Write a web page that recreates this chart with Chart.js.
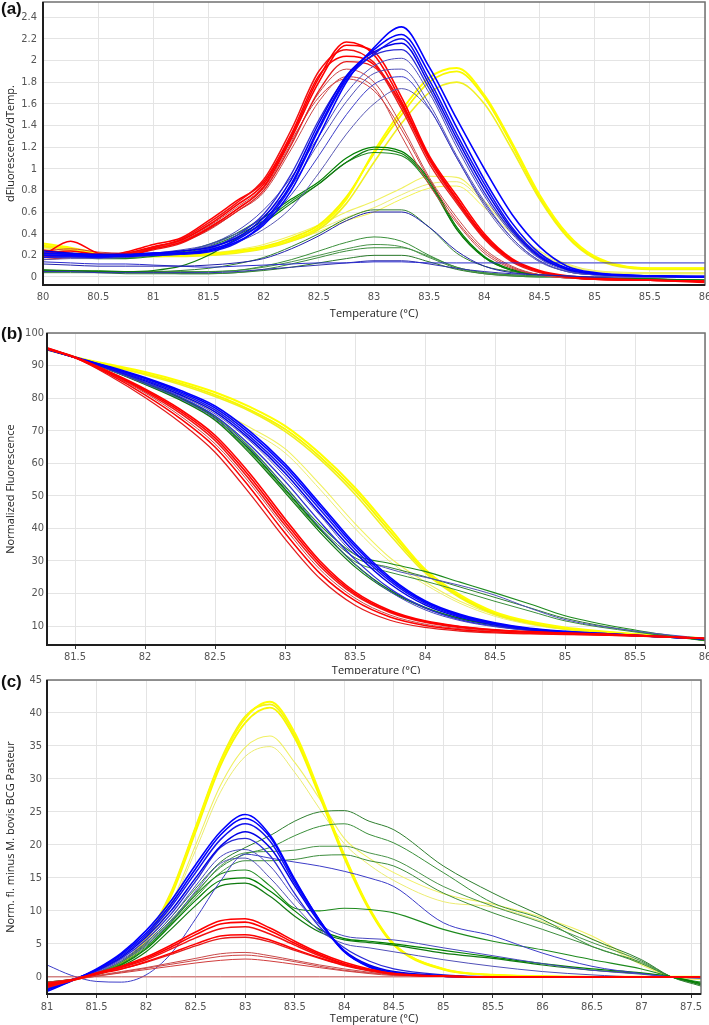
<!DOCTYPE html>
<html>
<head>
<meta charset="utf-8">
<script src="https://cdn.jsdelivr.net/npm/chart.js"></script>
<style>
  body { margin: 0; background: #fff; width: 709px; height: 1025px; position: relative; overflow: hidden; }
  .panel { position: absolute; left: 0; width: 709px; background: #fff; }
  .panel canvas { display: block; background: #fff; }
  .tag { position: absolute; left: 1px; font: bold 17px 'Liberation Sans', Arial, sans-serif; color: #111; z-index: 5; }
</style>
</head>
<body>
<div class="panel" style="top:0;height:320px"><canvas id="chartA" width="709" height="320"></canvas></div>
<div class="panel" style="top:320px;height:357px"><canvas id="chartB" width="709" height="357"></canvas></div>
<div class="panel" style="top:674px;height:351px"><canvas id="chartC" width="709" height="351"></canvas></div>
<div class="tag" style="top:-1px">(a)</div>
<div class="tag" style="top:324px">(b)</div>
<div class="tag" style="top:672px">(c)</div>
<script>
// ---------- (a) derivative melt curves ----------
const aTemps = [80, 80.25, 80.5, 80.75, 81, 81.25, 81.5, 81.75, 82, 82.25, 82.5, 82.75, 83, 83.25, 83.5, 83.75, 84, 84.25, 84.5, 84.75, 85, 85.5, 86];
const aXTicks = [80, 80.5, 81, 81.5, 82, 82.5, 83, 83.5, 84, 84.5, 85, 85.5, 86];
const aYTicks = [0, 0.2, 0.4, 0.6, 0.8, 1, 1.2, 1.4, 1.6, 1.8, 2, 2.2, 2.4];

const aRed = [
  [0.22,0.24,0.21,0.22,0.28,0.34,0.48,0.66,0.86,1.3,1.84,2.17,2.05,1.62,1.1,0.72,0.38,0.16,0.05,0.0,-0.02,-0.03,-0.04],
  [0.2,0.33,0.22,0.2,0.26,0.32,0.45,0.62,0.83,1.28,1.8,2.14,2.08,1.66,1.12,0.75,0.4,0.17,0.06,0.01,-0.01,-0.03,-0.04],
  [0.18,0.2,0.2,0.21,0.27,0.35,0.5,0.68,0.9,1.36,1.9,2.1,1.98,1.58,1.08,0.7,0.36,0.15,0.05,0.0,-0.02,-0.03,-0.04],
  [0.25,0.22,0.18,0.23,0.3,0.36,0.52,0.7,0.88,1.32,1.86,2.04,1.96,1.6,1.1,0.72,0.37,0.16,0.05,0.0,-0.02,-0.03,-0.05],
  [0.16,0.18,0.19,0.2,0.25,0.31,0.44,0.6,0.8,1.22,1.72,1.99,1.94,1.55,1.05,0.68,0.35,0.14,0.04,0.0,-0.02,-0.03,-0.04],
  [0.22,0.22,0.2,0.22,0.27,0.33,0.46,0.62,0.82,1.24,1.7,1.92,1.8,1.4,0.92,0.55,0.26,0.1,0.02,-0.01,-0.02,-0.03,-0.04],
  [0.19,0.21,0.2,0.21,0.26,0.32,0.43,0.6,0.78,1.18,1.62,1.85,1.75,1.3,0.85,0.5,0.22,0.08,0.02,-0.01,-0.02,-0.03,-0.04],
  [0.24,0.26,0.23,0.22,0.28,0.34,0.47,0.64,0.84,1.26,1.66,1.83,1.72,1.36,0.9,0.52,0.24,0.09,0.02,-0.01,-0.02,-0.03,-0.04]
];
const aBlue = [
  [0.2,0.2,0.19,0.2,0.22,0.22,0.24,0.32,0.48,0.8,1.3,1.8,2.12,2.31,1.94,1.46,1.0,0.58,0.28,0.1,0.04,0.01,0.0],
  [0.22,0.21,0.2,0.19,0.21,0.22,0.25,0.34,0.52,0.86,1.38,1.84,2.1,2.24,1.88,1.38,0.9,0.5,0.22,0.08,0.03,0.01,0.0],
  [0.18,0.19,0.18,0.2,0.2,0.21,0.23,0.31,0.5,0.84,1.36,1.82,2.06,2.2,1.82,1.32,0.86,0.46,0.2,0.08,0.03,0.01,0.01],
  [0.24,0.22,0.21,0.21,0.22,0.24,0.27,0.36,0.55,0.9,1.42,1.86,2.08,2.16,1.78,1.28,0.82,0.44,0.19,0.07,0.03,0.01,0.0],
  [0.2,0.2,0.18,0.19,0.2,0.22,0.26,0.38,0.58,0.95,1.45,1.85,2.05,2.1,1.74,1.24,0.78,0.42,0.18,0.07,0.03,0.01,0.0],
  [0.22,0.22,0.2,0.2,0.22,0.25,0.3,0.42,0.62,0.92,1.3,1.7,1.95,2.02,1.7,1.2,0.75,0.4,0.17,0.06,0.02,0.01,0.0],
  [0.18,0.18,0.18,0.19,0.21,0.24,0.29,0.4,0.56,0.84,1.24,1.62,1.88,1.92,1.6,1.12,0.7,0.36,0.15,0.05,0.02,0.01,0.0],
  [0.21,0.2,0.19,0.2,0.22,0.24,0.28,0.36,0.5,0.76,1.12,1.5,1.78,1.85,1.56,1.1,0.68,0.36,0.15,0.05,0.02,0.01,0.0],
  [0.16,0.17,0.17,0.18,0.2,0.22,0.26,0.32,0.44,0.64,0.96,1.32,1.6,1.74,1.55,1.1,0.66,0.34,0.14,0.05,0.02,0.01,0.0],
  [0.12,0.11,0.1,0.1,0.1,0.1,0.11,0.13,0.17,0.26,0.38,0.52,0.6,0.6,0.46,0.24,0.1,0.04,0.02,0.01,0.0,0.0,0.0],
  [0.14,0.13,0.12,0.12,0.11,0.1,0.09,0.1,0.11,0.12,0.13,0.13,0.14,0.14,0.13,0.13,0.13,0.13,0.13,0.13,0.13,0.13,0.13],
  [0.05,0.05,0.04,0.04,0.04,0.04,0.04,0.05,0.07,0.09,0.11,0.13,0.15,0.15,0.12,0.08,0.05,0.03,0.02,0.01,0.0,0.0,0.0]
];
const aYellow = [
  [0.31,0.27,0.22,0.2,0.2,0.2,0.21,0.23,0.27,0.34,0.46,0.72,1.16,1.54,1.84,1.93,1.68,1.24,0.76,0.4,0.19,0.08,0.08],
  [0.29,0.26,0.22,0.2,0.19,0.2,0.21,0.24,0.28,0.36,0.48,0.74,1.14,1.5,1.8,1.9,1.66,1.22,0.74,0.38,0.18,0.08,0.08],
  [0.28,0.25,0.21,0.19,0.19,0.19,0.2,0.22,0.26,0.33,0.44,0.68,1.06,1.42,1.7,1.8,1.6,1.18,0.72,0.37,0.17,0.07,0.07],
  [0.3,0.26,0.22,0.2,0.2,0.2,0.22,0.25,0.3,0.38,0.48,0.6,0.7,0.82,0.93,0.92,0.7,0.44,0.24,0.12,0.06,0.04,0.04],
  [0.27,0.24,0.2,0.19,0.19,0.19,0.21,0.24,0.28,0.35,0.44,0.55,0.64,0.76,0.86,0.88,0.68,0.42,0.22,0.11,0.05,0.03,0.03],
  [0.26,0.24,0.21,0.2,0.2,0.2,0.21,0.23,0.27,0.33,0.42,0.52,0.6,0.72,0.82,0.84,0.64,0.4,0.21,0.1,0.05,0.03,0.03]
];
const aGreen = [
  [0.2,0.19,0.18,0.18,0.2,0.23,0.3,0.4,0.55,0.72,0.88,1.1,1.2,1.16,0.9,0.46,0.19,0.07,0.02,0.0,-0.01,-0.02,-0.03],
  [0.06,0.06,0.05,0.05,0.06,0.1,0.2,0.35,0.5,0.68,0.86,1.06,1.18,1.14,0.88,0.44,0.18,0.06,0.02,0.0,-0.01,-0.02,-0.03],
  [0.18,0.18,0.17,0.17,0.19,0.22,0.28,0.38,0.52,0.7,0.86,1.06,1.15,1.12,0.86,0.44,0.18,0.06,0.02,0.0,-0.01,-0.02,-0.03],
  [0.06,0.06,0.05,0.05,0.05,0.06,0.08,0.12,0.18,0.28,0.4,0.54,0.62,0.62,0.46,0.22,0.1,0.05,0.02,0.0,-0.01,-0.02,-0.03],
  [0.07,0.06,0.06,0.05,0.05,0.05,0.05,0.06,0.1,0.16,0.24,0.32,0.37,0.33,0.2,0.09,0.04,0.02,0.01,0.0,-0.01,-0.02,-0.03],
  [0.05,0.05,0.04,0.04,0.04,0.04,0.05,0.06,0.09,0.14,0.2,0.26,0.3,0.28,0.19,0.09,0.04,0.02,0.01,0.0,-0.01,-0.02,-0.03],
  [0.06,0.05,0.05,0.04,0.04,0.03,0.03,0.04,0.07,0.12,0.18,0.24,0.27,0.27,0.18,0.08,0.03,0.01,0.0,0.0,-0.01,-0.02,-0.03],
  [0.04,0.04,0.04,0.03,0.03,0.03,0.03,0.04,0.06,0.09,0.13,0.17,0.2,0.2,0.14,0.07,0.03,0.01,0.0,0.0,-0.01,-0.02,-0.03]
];

// ---------- (b) normalized melt curves ----------
const bTemps = [81.3, 81.5, 81.75, 82, 82.25, 82.5, 82.75, 83, 83.25, 83.5, 83.75, 84, 84.25, 84.5, 84.75, 85, 85.5, 86];
const bXTicks = [81.5, 82, 82.5, 83, 83.5, 84, 84.5, 85, 85.5, 86];
const bYTicks = [10, 20, 30, 40, 50, 60, 70, 80, 90, 100];

const bRed = [
  [95.5,92.6,88.0,82.8,76.6,68.6,56.8,43.0,30.0,20.5,14.8,11.6,9.9,8.9,8.3,7.9,7.2,6.2],
  [95.3,92.5,87.8,82.4,76.0,67.8,55.8,42.0,29.2,20.0,14.5,11.4,9.8,8.8,8.2,7.8,7.2,6.2],
  [95.2,92.5,87.6,82.0,75.4,67.0,54.8,41.0,28.4,19.5,14.2,11.2,9.6,8.7,8.1,7.8,7.1,6.2],
  [95.2,92.4,87.2,81.0,73.8,65.0,52.5,38.6,26.2,17.8,12.8,10.2,8.9,8.2,7.8,7.6,7.0,6.2],
  [95.0,92.4,86.8,80.2,72.6,63.4,50.6,36.8,24.6,16.4,11.8,9.6,8.5,7.9,7.6,7.4,7.0,6.2],
  [95.4,92.5,87.4,81.6,74.6,66.0,53.8,40.0,27.4,18.6,13.4,10.6,9.2,8.4,7.9,7.6,7.0,6.2]
];
const bBlue = [
  [95.3,92.6,89.6,86.3,82.4,77.6,69.8,59.8,47.6,35.2,25.0,17.8,13.6,11.0,9.3,8.4,7.2,6.1],
  [95.1,92.5,89.4,86.0,82.0,77.0,69.0,59.0,46.8,34.5,24.4,17.4,13.3,10.8,9.2,8.3,7.2,6.1],
  [94.9,92.5,89.2,85.6,81.6,76.4,68.2,58.0,45.8,33.6,23.8,17.0,13.0,10.6,9.0,8.2,7.1,6.1],
  [95.0,92.5,89.0,85.3,81.1,75.8,67.4,57.0,44.6,32.6,23.0,16.5,12.7,10.4,8.9,8.1,7.1,6.1],
  [95.0,92.5,88.8,84.8,80.4,74.6,65.6,54.5,42.0,30.5,21.5,15.6,12.0,10.0,8.7,8.0,7.0,6.1],
  [94.8,92.4,88.6,84.4,79.8,73.8,64.4,52.8,40.2,29.0,20.6,15.0,11.7,9.8,8.6,7.9,7.0,6.1],
  [95.0,92.5,89.0,85.0,80.8,75.2,66.8,56.0,44.0,32.0,27.5,25.0,22.5,19.5,15.5,12.0,8.5,6.2]
];
const bYellow = [
  [95.2,92.6,90.3,88.0,85.2,81.8,77.3,71.5,63.0,52.5,40.0,27.5,19.6,14.3,11.4,9.6,7.6,6.2],
  [95.0,92.6,90.0,87.5,84.6,81.0,76.4,70.5,62.0,51.5,39.0,27.0,19.1,13.9,11.0,9.3,7.5,6.2],
  [94.8,92.5,89.8,87.2,84.2,80.5,76.0,69.8,61.2,50.5,38.0,26.4,18.7,13.6,10.8,9.1,7.4,6.2],
  [95.0,92.5,89.5,86.0,81.5,76.5,71.0,64.5,53.5,41.5,31.0,23.6,17.6,13.4,10.8,9.1,7.3,6.2],
  [94.9,92.5,89.3,85.6,81.0,75.8,70.0,63.2,52.0,40.0,29.8,22.8,17.0,13.0,10.5,8.9,7.2,6.2]
];
const bGreen = [
  [95.0,92.5,88.8,84.6,80.0,74.0,64.0,52.0,39.8,29.0,21.0,15.8,12.4,10.4,9.0,8.2,7.1,6.0],
  [95.1,92.5,88.6,84.2,79.4,73.2,63.0,51.0,38.8,28.2,20.6,15.6,12.3,10.3,9.0,8.2,7.1,6.0],
  [95.0,92.5,88.9,84.8,80.2,74.4,64.8,53.0,41.0,32.0,29.2,26.8,23.5,20.2,16.8,13.2,8.8,5.6],
  [95.0,92.5,88.7,84.5,79.8,73.8,64.0,52.2,40.2,31.0,28.0,25.2,22.0,18.8,15.6,12.4,8.4,5.6],
  [94.9,92.4,88.6,84.3,79.5,73.4,63.5,51.5,39.5,29.8,26.5,23.8,20.8,17.6,14.6,11.6,8.2,5.5]
];

// ---------- (c) difference curves ----------
const cTemps = [81, 81.25, 81.5, 81.75, 82, 82.25, 82.5, 82.75, 83, 83.25, 83.5, 83.75, 84, 84.25, 84.5, 85, 85.5, 86, 86.5, 87, 87.3, 87.6];
const cXTicks = [81, 81.5, 82, 82.5, 83, 83.5, 84, 84.5, 85, 85.5, 86, 86.5, 87, 87.5];
const cYTicks = [0, 5, 10, 15, 20, 25, 30, 35, 40, 45];

const cRed = [
  [-1.0,-0.5,0.6,1.6,3.0,4.8,6.8,8.5,8.8,7.4,5.4,3.6,2.2,1.2,0.5,0.1,0,0,0,0,0,0],
  [-1.4,-0.5,0.5,1.5,2.8,4.5,6.4,8.0,8.3,7.0,5.1,3.4,2.0,1.1,0.5,0.1,0,0,0,0,0,0],
  [-1.6,-0.6,0.4,1.4,2.6,4.2,5.9,7.3,7.6,6.5,4.8,3.2,1.9,1.0,0.4,0.1,0,0,0,0,0,0],
  [-1.2,-0.5,0.4,1.2,2.3,3.6,5.0,6.2,6.4,5.6,4.2,2.9,1.8,1.0,0.4,0.1,0,0,0,0,0,0],
  [-0.9,-0.4,0.5,1.2,2.2,3.4,4.7,5.8,6.0,5.3,4.0,2.8,1.7,0.9,0.4,0.1,0,0,0,0,0,0],
  [-1.0,-0.5,0.2,0.8,1.4,2.1,2.8,3.5,3.7,3.2,2.5,1.8,1.2,0.7,0.3,0.1,0,0,0,0,0,0],
  [-1.3,-0.5,0.1,0.7,1.3,1.9,2.5,3.1,3.3,2.9,2.3,1.6,1.0,0.6,0.3,0.1,0,0,0,0,0,0],
  [-0.8,-0.4,0.1,0.6,1.1,1.6,2.1,2.5,2.7,2.4,1.9,1.4,0.9,0.5,0.2,0.1,0,0,0,0,0,0],
  [0,0,0,0,0,0,0,0,0,0,0,0,0,0,0,0,0,0,0,0,0,0]
];
const cBlue = [
  [-2.2,-0.6,1.2,3.6,7.0,11.5,17.0,22.0,24.6,21.5,14.8,8.6,3.8,1.5,0.6,0.1,0,0,0,0,0,0],
  [-2.0,-0.6,1.1,3.4,6.6,11.0,16.4,21.5,24.0,21.2,14.6,8.6,3.9,1.6,0.6,0.1,0,0,0,0,0,0],
  [-1.9,-0.5,1.0,3.2,6.3,10.6,15.8,20.8,23.2,20.6,14.2,8.4,3.8,1.6,0.6,0.1,0,0,0,0,0,0],
  [-1.8,-0.5,1.0,3.0,6.0,10.0,15.0,19.8,22.0,19.6,13.8,8.2,4.0,1.8,0.8,0.2,0,0,0,0,0,0],
  [-1.6,-0.4,0.9,2.8,5.6,9.5,14.5,19.6,21.0,18.4,12.6,7.6,4.4,2.4,1.2,0.3,0,0,0,0,0,0],
  [-1.5,-0.4,0.8,2.6,5.2,9.0,13.8,18.2,19.3,16.8,12.0,8.0,6.2,5.8,5.6,4.4,3.2,2.0,1.0,0.4,0,-0.2],
  [-1.4,-0.4,0.7,2.4,4.8,8.4,13.0,17.2,18.0,15.0,10.8,7.0,5.0,4.4,3.8,2.6,1.6,0.8,0.3,0,0,0],
  [1.8,0.2,-0.7,-0.8,0.3,3.5,8.8,14.5,18.6,18.0,17.4,16.8,16.0,15.0,13.7,8.2,6.2,3.6,1.6,0.5,0,-0.2]
];
const cYellow = [
  [-1.2,-0.5,0.5,2.0,5.8,12.5,22.5,32.5,39.2,41.7,37.0,28.0,18.5,10.5,5.0,1.2,0.3,0.1,0,0,0,0],
  [-1.3,-0.5,0.5,2.0,5.6,12.2,22.0,32.0,38.5,40.8,36.2,27.4,18.0,10.2,4.8,1.1,0.3,0.1,0,0,0,0],
  [-1.1,-0.5,0.6,2.1,6.0,12.8,22.8,32.8,39.5,41.3,36.6,27.8,18.4,10.4,5.0,1.2,0.3,0.1,0,0,0,0],
  [-1.2,-0.5,0.5,1.8,5.2,11.0,20.0,29.0,34.8,36.5,32.5,27.0,21.0,18.0,15.8,12.6,11.0,9.0,6.2,2.0,0,-0.4],
  [-1.3,-0.6,0.4,1.7,5.0,10.6,19.2,28.0,33.4,34.9,31.0,25.5,20.2,17.0,14.6,11.4,10.6,8.4,5.8,1.8,0,-0.4]
];
const cGreen = [
  [-1.0,-0.4,0.4,1.8,4.2,7.8,11.6,14.6,15.0,13.0,10.0,7.2,5.8,5.4,5.0,4.0,3.0,2.0,1.2,0.6,0,-1.0],
  [-0.8,-0.4,0.3,1.6,3.8,7.2,10.8,13.8,14.2,12.2,9.2,6.8,5.6,5.2,4.8,3.6,2.8,1.8,1.0,0.5,0,-1.2],
  [-1.0,-0.4,0.4,1.9,4.4,8.2,12.4,15.6,16.2,13.8,10.4,10.0,10.4,10.2,9.7,7.2,5.4,4.1,2.6,1.2,0,-0.8],
  [-1.0,-0.4,0.6,2.4,5.2,9.0,13.4,17.4,19.6,21.4,23.6,25.0,25.2,23.6,22.3,16.8,12.7,9.2,5.7,2.6,0,-1.4],
  [-0.9,-0.4,0.5,2.2,5.0,8.6,12.8,16.6,18.6,19.6,21.4,22.8,23.2,21.6,20.3,15.8,11.2,8.7,4.6,2.2,0,-1.0],
  [-0.9,-0.4,0.5,2.2,4.8,8.4,12.6,16.8,18.8,19.0,19.2,19.8,19.8,18.8,17.8,13.7,10.7,8.2,5.2,2.4,0,-1.2],
  [-0.8,-0.4,0.5,2.0,4.6,8.0,12.0,15.8,17.6,17.6,17.8,18.4,18.5,17.6,16.8,12.7,9.7,7.2,4.6,2.0,0,-1.1]
];

// line colours and widths for each group
const redCols = ['#ff0000', '#ff0000', '#f21212', '#ff0000', '#e51c1c', '#c94848', '#cc4444', '#d03c3c', '#c85050'];
const blueCols = ['#0000ff', '#0000ff', '#1212ee', '#0000e8', '#2a2ad6', '#4848c0', '#5050b8', '#3c3cc8', '#5a5ab4', '#2020aa', '#2a2acc', '#3030b0'];
const greenCols = ['#008000', '#107a10', '#1d8a1d', '#2f7f2f', '#3a8f3a', '#4a944a', '#3c8c3c', '#2a7a2a'];
const yellowCols = ['#ffff00', '#f8f800', '#f0f020', '#f0f060', '#ecec70', '#f2f250'];
const redW = [1.6, 1.6, 1.5, 1.5, 1.3, 1, 1, 1, 1];
const blueW = [1.6, 1.6, 1.5, 1.5, 1.3, 1, 1, 1, 1, 1, 1, 1];
const greenW = [1.2, 1.2, 1.1, 1, 1, 1, 1, 1];
const yellowW = [2, 1.8, 1.6, 1.1, 1, 1];

const tickFont = { family: "'Liberation Sans Narrow', 'DejaVu Sans Condensed', 'Liberation Sans', sans-serif", size: 11 };
const titleFont = { family: "'Open Sans', 'Noto Sans', sans-serif", size: 11 };

function series(temps, curves, colors, widths) {
  return curves.map((c, i) => ({
    data: c.map((v, j) => ({ x: temps[j], y: v })),
    borderColor: colors[i % colors.length],
    borderWidth: widths[i % widths.length],
    pointRadius: 0,
    fill: false,
    cubicInterpolationMode: 'monotone'
  }));
}

// plot frame: grey box, darker left and bottom axes
const frame = {
  id: 'frame',
  afterDatasetsDraw(chart) {
    const { ctx, chartArea: a } = chart;
    ctx.save();
    ctx.strokeStyle = '#707070';
    ctx.lineWidth = 1.5;
    ctx.strokeRect(a.left, a.top, a.right - a.left, a.bottom - a.top);
    ctx.strokeStyle = '#1e1e1e';
    ctx.lineWidth = 2;
    ctx.beginPath();
    ctx.moveTo(a.left, a.top);
    ctx.lineTo(a.left, a.bottom);
    ctx.lineTo(a.right, a.bottom);
    ctx.stroke();
    ctx.restore();
  }
};

function panel(id, datasets, o) {
  new Chart(document.getElementById(id), {
    type: 'line',
    data: { datasets },
    options: {
      responsive: false,
      animation: false,
      events: [],
      layout: { padding: { top: o.top, right: o.right, left: 0, bottom: 0 } },
      plugins: { legend: { display: false }, tooltip: { enabled: false } },
      scales: {
        x: {
          type: 'linear', min: o.xMin, max: o.xMax,
          afterBuildTicks: s => { s.ticks = o.xTicks.map(v => ({ value: v })); },
          afterFit: s => { s.height = o.xH; s.paddingLeft = 0; s.paddingRight = 0; },
          grid: { color: '#e4e4e4', drawTicks: o.xTickLen > 0, tickLength: o.xTickLen, tickColor: '#333' },
          border: { display: false },
          ticks: { autoSkip: false, maxRotation: 0, padding: o.xPad, color: '#555', font: tickFont, callback: v => String(v) },
          title: { display: true, text: 'Temperature (°C)', color: '#222', font: titleFont, padding: 0 }
        },
        y: {
          type: 'linear', min: o.yMin, max: o.yMax,
          afterBuildTicks: s => { s.ticks = o.yTicks.map(v => ({ value: v })); },
          afterFit: s => { s.width = o.yW; s.paddingTop = 0; s.paddingBottom = 0; },
          grid: { color: '#e4e4e4', drawTicks: false },
          border: { display: false },
          ticks: { autoSkip: false, padding: o.yPad, color: '#555', font: tickFont, callback: v => String(v) },
          title: { display: true, text: o.yTitle, color: '#222', font: titleFont, padding: { top: 4, bottom: 0 } }
        }
      }
    },
    plugins: [frame]
  });
}

panel('chartA', [
  ...series(aTemps, aBlue, blueCols, blueW),
  ...series(aTemps, aRed, redCols, redW),
  ...series(aTemps, aGreen, greenCols, greenW),
  ...series(aTemps, aYellow, yellowCols, yellowW)
], { top: 2, right: 4, xMin: 80, xMax: 86, xTicks: aXTicks, xH: 35, xTickLen: 0, xPad: 6,
     yMin: -0.074, yMax: 2.54, yTicks: aYTicks, yW: 43, yPad: 6, yTitle: 'dFluorescence/dTemp.' });

panel('chartB', [
  ...series(bTemps, bRed, redCols, redW),
  ...series(bTemps, bBlue, blueCols, blueW),
  ...series(bTemps, bGreen, greenCols, greenW),
  ...series(bTemps, bYellow, yellowCols, yellowW)
], { top: 13, right: 4, xMin: 81.3, xMax: 86, xTicks: bXTicks, xH: 32, xTickLen: 4, xPad: 2,
     yMin: 4.2, yMax: 100, yTicks: bYTicks, yW: 47, yPad: 3, yTitle: 'Normalized Fluorescence' });

panel('chartC', [
  ...series(cTemps, cRed, redCols, redW),
  ...series(cTemps, cBlue, blueCols, blueW),
  ...series(cTemps, cGreen, greenCols, greenW),
  ...series(cTemps, cYellow, yellowCols, yellowW)
], { top: 6, right: 8, xMin: 81, xMax: 87.6, xTicks: cXTicks, xH: 31, xTickLen: 4, xPad: 3,
     yMin: -2.6, yMax: 45, yTicks: cYTicks, yW: 47, yPad: 5, yTitle: 'Norm. fl. minus M. bovis BCG Pasteur' });
</script>
</body>
</html>
